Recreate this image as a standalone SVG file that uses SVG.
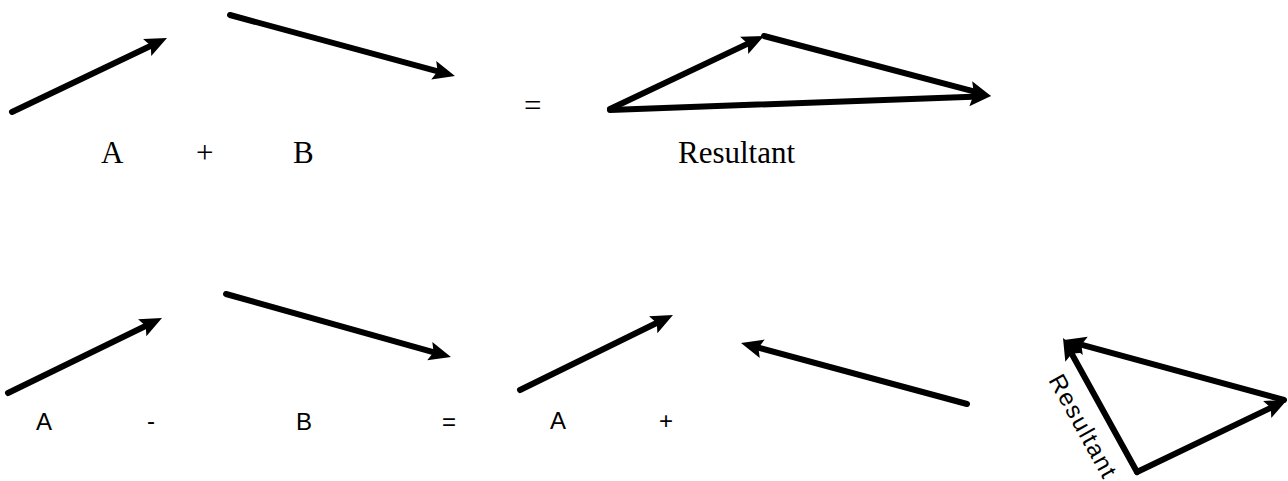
<svg xmlns="http://www.w3.org/2000/svg" width="1288" height="481" viewBox="0 0 1288 481">
<defs>
<marker id="ah" markerUnits="userSpaceOnUse" markerWidth="40" markerHeight="40" viewBox="-20 -20 40 40" refX="0" refY="0" orient="auto" overflow="visible">
<path d="M-10,-9.5 L12,0 L-10,9.5 L-6,0 Z" fill="#000"/>
</marker>
<style>
.v{stroke:#000;stroke-width:6;fill:none;stroke-linecap:round;marker-end:url(#ah)}
.serif{font-family:"Liberation Serif","Times New Roman",serif;font-size:31px;fill:#000}
.sans{font-family:"Liberation Sans",Arial,sans-serif;font-size:24px;fill:#000}
</style>
</defs>
<rect width="1288" height="481" fill="#fff"/>
<g id="connectors">
<line class="v" x1="12" y1="112" x2="156.2" y2="43.2"/>
<line class="v" x1="230" y1="15" x2="443.4" y2="72.9"/>
<line class="v" x1="610" y1="109" x2="753.2" y2="41.1"/>
<line class="v" x1="764" y1="36" x2="979.4" y2="92.9"/>
<line class="v" x1="610" y1="110" x2="979" y2="96.4"/>
<line class="v" x1="8" y1="393" x2="151.2" y2="323.3"/>
<line class="v" x1="226" y1="294" x2="439.4" y2="353.8"/>
<line class="v" x1="520" y1="390" x2="662.2" y2="320.3"/>
<line class="v" x1="967" y1="404" x2="752.6" y2="346.1"/>
<line class="v" x1="1137" y1="472" x2="1276.2" y2="405.2"/>
<line class="v" x1="1284" y1="400" x2="1075.6" y2="343.2"/>
<line class="v" x1="1137" y1="472" x2="1068.8" y2="348.5"/>
</g>
<g id="label-A-top"><text class="serif" x="101" y="163">A</text></g>
<g id="label-plus-top"><text class="serif" x="196" y="163">+</text></g>
<g id="label-B-top"><text class="serif" x="293" y="163">B</text></g>
<g id="label-eq-top"><text class="serif" x="524" y="116">=</text></g>
<g id="label-resultant-top"><text class="serif" x="678" y="163">Resultant</text></g>
<g id="label-A-bottom"><text class="sans" x="36" y="430">A</text></g>
<g id="label-minus"><text class="sans" x="147" y="429">-</text></g>
<g id="label-B-bottom"><text class="sans" x="296" y="430">B</text></g>
<g id="label-eq-bottom"><text class="sans" x="442" y="430">=</text></g>
<g id="label-A-bottom2"><text class="sans" x="550" y="429">A</text></g>
<g id="label-plus-bottom"><text class="sans" x="659" y="429">+</text></g>
<g id="label-resultant-rot"><text class="sans" font-size="23" transform="translate(1048,380) rotate(61)" textLength="114" lengthAdjust="spacing">Resultant</text></g>
</svg>
